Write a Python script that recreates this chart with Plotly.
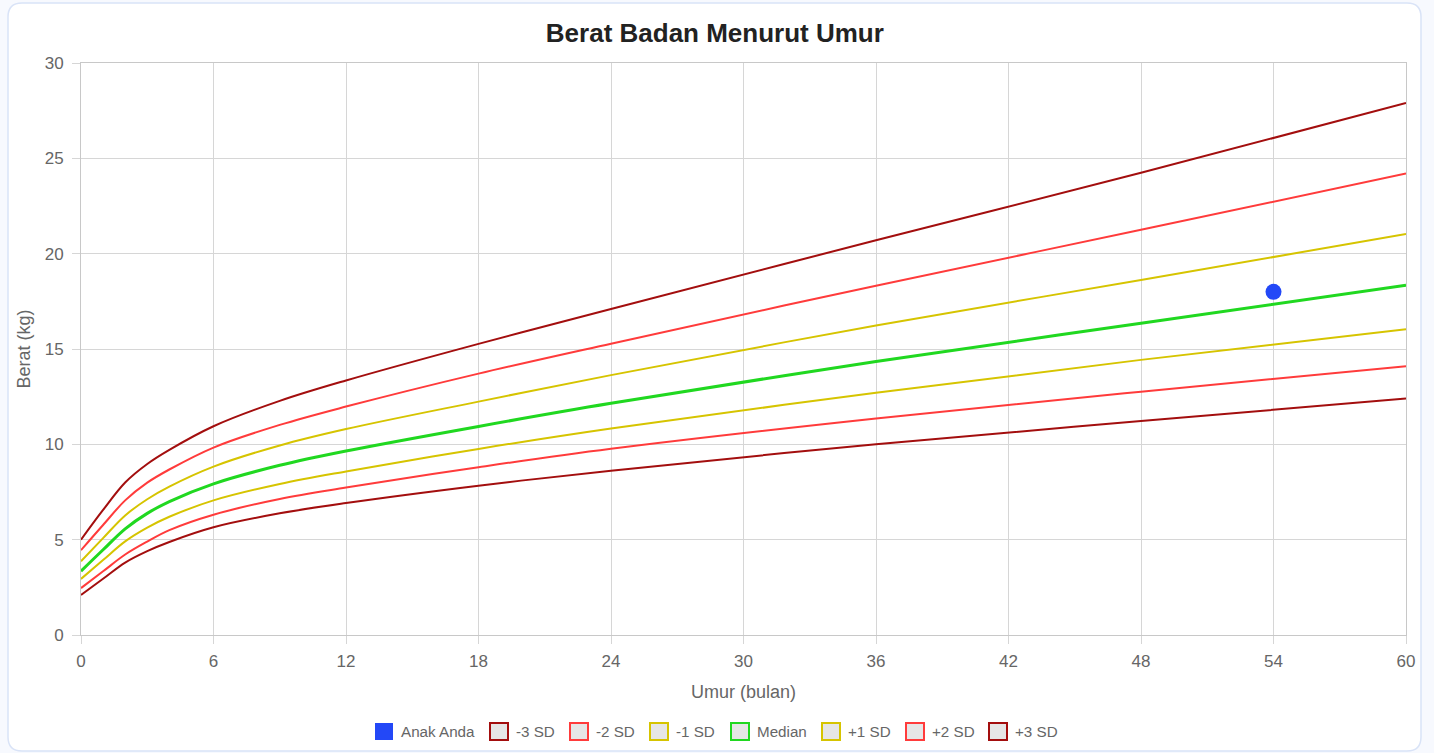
import plotly.graph_objects as go

# ---- data (weight-for-age reference curves) ----
months = [0, 1, 2, 3, 4, 6, 9, 12, 18, 24, 36, 48, 60]
sd_minus3 = [2.10, 2.95, 3.80, 4.40, 4.88, 5.65, 6.38, 6.92, 7.83, 8.62, 10.00, 11.22, 12.40]
sd_minus2 = [2.46, 3.34, 4.22, 4.90, 5.50, 6.31, 7.13, 7.73, 8.80, 9.77, 11.36, 12.76, 14.10]
sd_minus1 = [2.94, 3.93, 4.91, 5.63, 6.20, 7.06, 7.92, 8.58, 9.76, 10.83, 12.70, 14.43, 16.04]
median = [3.35, 4.47, 5.57, 6.38, 7.00, 7.93, 8.90, 9.65, 10.94, 12.15, 14.34, 16.35, 18.34]
sd_plus1 = [3.87, 5.08, 6.27, 7.12, 7.78, 8.83, 9.94, 10.80, 12.24, 13.63, 16.23, 18.62, 21.03]
sd_plus2 = [4.45, 5.77, 7.06, 7.99, 8.68, 9.83, 11.02, 11.98, 13.71, 15.28, 18.32, 21.25, 24.20]
sd_plus3 = [5.00, 6.56, 8.00, 8.97, 9.71, 10.95, 12.28, 13.35, 15.27, 17.10, 20.70, 24.24, 27.90]

child_age = [54]
child_weight = [18.0]

x_ticks = [0, 6, 12, 18, 24, 30, 36, 42, 48, 54, 60]
y_ticks = [0, 5, 10, 15, 20, 25, 30]

series_names = ["-3 SD", "-2 SD", "-1 SD", "Median", "+1 SD", "+2 SD", "+3 SD"]
series_values = [sd_minus3, sd_minus2, sd_minus1, median, sd_plus1, sd_plus2, sd_plus3]
child_name = "Anak Anda"

# ---- styles ----
DARK_RED = "#a30e0e"
RED = "#ff3b3b"
YELLOW = "#d6c400"
GREEN = "#20d820"
BLUE = "#2348f7"
series_colors = [DARK_RED, RED, YELLOW, GREEN, YELLOW, RED, DARK_RED]
series_widths = [2, 2, 2, 3, 2, 2, 2]

FONT = "Liberation Sans, Arial, Helvetica, sans-serif"
GRID = "#d6d6d6"
TXT = "#666666"

W, H = 1434, 753
L, R, T, B = 81, W - 1406, 63, H - 635
PW, PH = W - L - R, H - T - B


def px2x(px):
    return (px - L) / PW


def px2y(py):
    return (H - B - py) / PH


fig = go.Figure()

for name, vals, col, wd in zip(series_names, series_values, series_colors, series_widths):
    fig.add_trace(go.Scatter(
        x=months, y=vals, mode="lines", name=name,
        line=dict(color=col, width=wd, shape="spline", smoothing=1.0),
        showlegend=False,
    ))

fig.add_trace(go.Scatter(
    x=child_age, y=child_weight, mode="markers", name=child_name, showlegend=False,
    marker=dict(color=BLUE, size=16, line=dict(width=0)),
))

# card background (rounded rect) in paper coords
x0, x1, y0, y1, r = 8, 1421, 3, 751, 14
rx, ry = r / PW, r / PH
X0, X1, Y0, Y1 = px2x(x0), px2x(x1), px2y(y0), px2y(y1)
path = (
    f"M {X0+rx},{Y0} L {X1-rx},{Y0} Q {X1},{Y0} {X1},{Y0-ry} "
    f"L {X1},{Y1+ry} Q {X1},{Y1} {X1-rx},{Y1} "
    f"L {X0+rx},{Y1} Q {X0},{Y1} {X0},{Y1+ry} "
    f"L {X0},{Y0-ry} Q {X0},{Y0} {X0+rx},{Y0} Z"
)
fig.add_shape(type="path", path=path, xref="paper", yref="paper",
              fillcolor="white", line=dict(color="#d9e3f7", width=1.5), layer="below")

# manual legend (Chart.js style boxes)
legend_labels = [child_name] + series_names
legend_fills = [BLUE] + ["#e6e6e6"] * len(series_names)
legend_borders = [BLUE] + series_colors
legend_box_left = [375, 490, 570, 650, 731, 822, 906, 989]
box_w, box_h, leg_cy = 18, 17, 731.5
for lab, fc, bc, bx in zip(legend_labels, legend_fills, legend_borders, legend_box_left):
    fig.add_shape(type="rect", xref="paper", yref="paper",
                  x0=px2x(bx), x1=px2x(bx + box_w),
                  y0=px2y(leg_cy + box_h / 2), y1=px2y(leg_cy - box_h / 2),
                  fillcolor=fc, line=dict(color=bc, width=0 if bc == fc else 2))
    fig.add_annotation(x=px2x(bx + box_w + 6), y=px2y(leg_cy), xref="paper", yref="paper",
                       text=lab, showarrow=False, xanchor="left", yanchor="middle",
                       font=dict(family=FONT, size=15.2, color=TXT))

axis_common = dict(
    showgrid=True, gridcolor=GRID, gridwidth=1,
    showline=True, linecolor="#c8c8c8", linewidth=1, mirror=True,
    ticks="outside", ticklen=8, tickcolor=GRID, tickwidth=1,
    zeroline=False,
    tickfont=dict(family=FONT, size=17, color=TXT),
)

fig.update_layout(
    width=W, height=H,
    margin=dict(l=L, r=R, t=T, b=B, autoexpand=False),
    paper_bgcolor="#f7f9fe", plot_bgcolor="rgba(0,0,0,0)",
    title=dict(text="<b>Berat Badan Menurut Umur</b>", x=0.4985, xanchor="center",
               y=1 - 33 / H, yanchor="middle", yref="container",
               font=dict(family=FONT, size=26, color="#222222")),
    xaxis=dict(range=[0, 60], tickvals=x_ticks, ticktext=[str(v) for v in x_ticks],
               title=dict(text="Umur (bulan)", font=dict(family=FONT, size=18, color=TXT), standoff=14),
               ticklabelstandoff=3, automargin=False, **axis_common),
    yaxis=dict(range=[0, 30], tickvals=y_ticks, ticktext=[str(v) for v in y_ticks],
               title=dict(text="Berat (kg)", font=dict(family=FONT, size=18, color=TXT), standoff=9),
               ticklabelstandoff=5, automargin=False, **axis_common),
    showlegend=False,
    hovermode="closest",
)

fig.write_html("out.html", config={"displayModeBar": False},
               post_script="document.body.style.margin='0';document.body.style.overflow='hidden';")
